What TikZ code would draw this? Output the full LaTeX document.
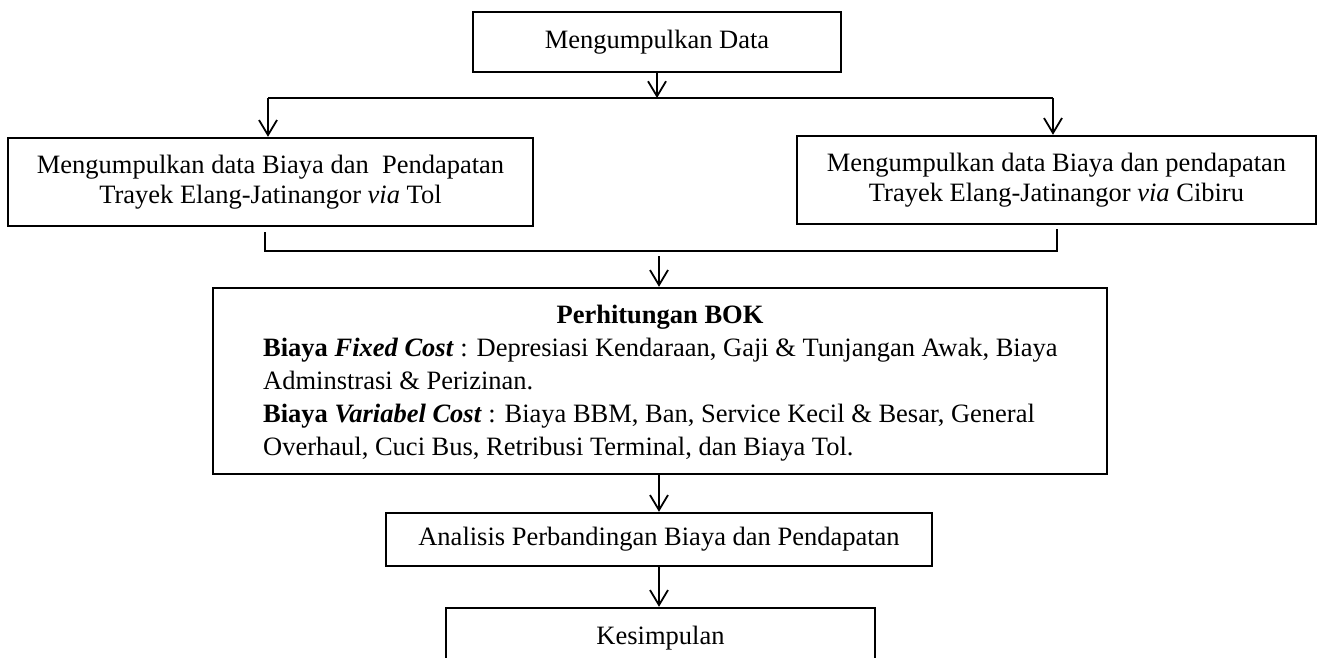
\documentclass[tikz,border=0pt]{standalone}
\usepackage{fontspec}
\setmainfont{Liberation Serif}
\usetikzlibrary{arrows.meta}
\newcommand\dgfs{\fontsize{26.5}{30.5}\selectfont}
\newcommand\dgfsb{\fontsize{26.5}{33}\selectfont}
\begin{document}
\begin{tikzpicture}[x=1pt,y=-1pt,
  box/.style={draw, line width=2.4pt, inner sep=0pt, font=\dgfs},
  conn/.style={line width=1.8pt},
  arr/.style={conn, -{Straight Barb[length=15pt,width=18pt]}}]
\useasboundingbox (0,0) rectangle (1322,658);
\clip (0,0) rectangle (1322,658);
\node[box, minimum width=368pt, minimum height=60pt] (top) at (657,42) {Mengumpulkan Data};
\node[box, minimum width=525pt, minimum height=88pt, align=center] (left) at (270.5,182)
  {Mengumpulkan data Biaya dan\ \ Pendapatan\\Trayek Elang-Jatinangor \textit{via} Tol};
\node[box, minimum width=519pt, minimum height=88pt, align=center] (right) at (1056.5,180)
  {Mengumpulkan data Biaya dan pendapatan\\Trayek Elang-Jatinangor \textit{via} Cibiru};
\node[box, minimum width=894pt, minimum height=186pt] (bok) at (660,381) {};
\node[font=\dgfs\bfseries, inner sep=0pt] (bokh) at (660,317) {Perhitungan BOK};
\node[font=\dgfsb, align=left, anchor=north west, inner sep=0pt] (bokt) at (263,338)
  {\textbf{Biaya \textit{Fixed Cost}} : Depresiasi Kendaraan, Gaji \& Tunjangan Awak, Biaya\\
   Adminstrasi \& Perizinan.\\
   \textbf{Biaya \textit{Variabel Cost}} : Biaya BBM, Ban, Service Kecil \& Besar, General\\
   Overhaul, Cuci Bus, Retribusi Terminal, dan Biaya Tol.};
\node[box, minimum width=546pt, minimum height=53pt] (ana) at (659,539.5) {Analisis Perbandingan Biaya dan Pendapatan};
\node[box, minimum width=429pt, minimum height=60pt] (kes) at (660.5,638) {Kesimpulan};
% split
\coordinate (sL) at (268,98);
\coordinate (sM) at (657,98);
\coordinate (sR) at (1053,98);
\draw[conn] (sL) -- (sR);
\draw[arr] (top.south) -- (sM);
\draw[arr] (sL) -- (sL |- left.north);
\draw[arr] (sR) -- (sR |- right.north);
% merge
\coordinate (mL) at (265,232);
\coordinate (mLb) at (265,251);
\coordinate (mRb) at (1057,251);
\coordinate (mR) at (1057,229);
\draw[conn] (mL) -- (mLb) -- (mRb) -- (mR);
\coordinate (mM) at (659,256);
\draw[arr] (mM) -- (bok.north -| mM);
\draw[arr] (bok.south -| ana.north) -- (ana.north);
\draw[arr] (ana.south) -- (kes.north -| ana.south);
\end{tikzpicture}
\end{document}
